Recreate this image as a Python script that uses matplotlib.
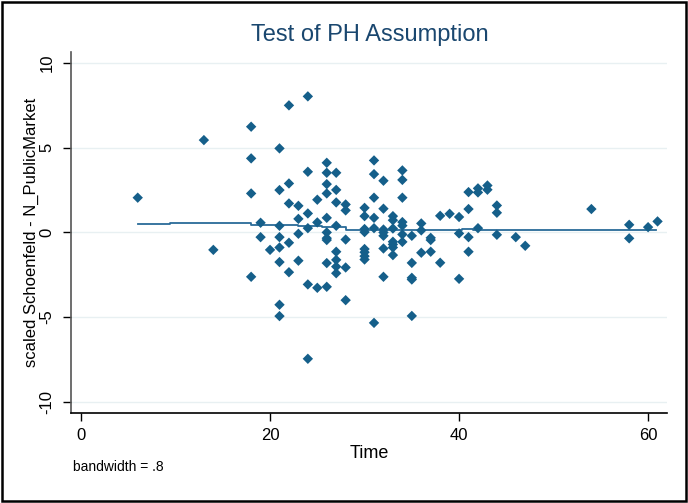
import matplotlib
matplotlib.use("Agg")
import matplotlib.pyplot as plt
from matplotlib.patches import Rectangle

plt.rcParams['font.family'] = ['Liberation Sans Narrow', 'Liberation Sans', 'DejaVu Sans']

# Scaled Schoenfeld residuals by time
resid_by_time = {
    6: [2.05],
    13: [5.45],
    14: [-1.03],
    18: [6.24, 4.37, 2.30, -2.62],
    19: [0.57, -0.28],
    20: [-1.03],
    21: [4.96, 2.50, 0.39, -0.28, -0.89, -1.75, -4.27, -4.94],
    22: [7.50, 2.89, 1.71, -0.61, -2.35],
    23: [1.57, 0.80, -0.08, -1.67],
    24: [8.03, 3.58, 1.12, 0.25, -3.07, -7.46],
    25: [1.93, 0.59, -3.27],
    26: [4.11, 3.52, 2.85, 2.30, 0.86, 0.0, -0.34, -0.45, -1.81, -3.21],
    27: [3.52, 2.51, 1.77, 0.39, -1.14, -1.62, -2.02, -2.41],
    28: [1.65, 1.30, -0.42, -2.07, -4.00],
    30: [1.45, 0.96, 0.20, 0.02, -0.98, -1.17, -1.40, -1.60],
    31: [4.25, 3.44, 2.05, 0.86, 0.25, -5.34],
    32: [3.05, 1.40, 0.17, 0.0, -0.20, -0.95, -2.62],
    33: [0.96, 0.72, 0.23, -0.55, -0.71, -0.89, -1.34],
    34: [3.66, 3.10, 2.05, 0.61, 0.40, -0.12, -0.56],
    35: [-0.20, -1.80, -2.68, -2.78, -4.93],
    36: [0.53, 0.12, -1.20],
    37: [-0.32, -0.45, -1.14],
    38: [0.98, -1.79],
    39: [1.10],
    40: [0.91, -0.06, -2.74],
    41: [2.38, 1.38, -0.28, -1.14],
    42: [2.60, 2.36, 0.25],
    43: [2.77, 2.52],
    44: [1.59, 1.16, -0.14],
    46: [-0.28],
    47: [-0.79],
    54: [1.38],
    58: [0.45, -0.35],
    60: [0.31],
    61: [0.65],
}
time_vals = [t for t, vs in resid_by_time.items() for _ in vs]
resid_vals = [v for vs in resid_by_time.values() for v in vs]

# Lowess smooth (bandwidth .8)
smooth_t = [6, 9.4, 9.4, 18, 18, 23, 23, 25.5, 25.5, 28, 28, 40.3, 40.3, 41.5, 41.5, 57.8, 57.8, 60.8]
smooth_v = [0.49, 0.49, 0.58, 0.58, 0.44, 0.44, 0.38, 0.38, 0.31, 0.31, 0.16, 0.16, 0.20, 0.20, 0.12, 0.12, 0.17, 0.17]

x_ticks = [0, 20, 40, 60]
y_ticks = [-10, -5, 0, 5, 10]

title_txt = "Test of PH Assumption"
xlabel_txt = "Time"
ylabel_txt = "scaled Schoenfeld - N_PublicMarket"
note_txt = "bandwidth = .8"

navy = '#1a476f'
mark_col = '#155f8a'
line_col = '#2a6b98'

fig = plt.figure(figsize=(6.88, 5.03), dpi=100)
fig.patch.set_facecolor('white')
ax = fig.add_axes([71/688, (503-413)/503, (667-71)/688, (413-52)/503])

ax.set_xlim(-1.06, 62.0)
ax.set_ylim(-10.66, 10.65)

for yt in y_ticks:
    ax.axhline(yt, color='#e8f0f2', lw=1.0, zorder=0)

ax.scatter(time_vals, resid_vals, marker='D', s=28, color=mark_col, edgecolors='none', zorder=3)
ax.plot(smooth_t, smooth_v, color=line_col, lw=1.3, zorder=2)

ax.set_xticks(x_ticks)
ax.set_yticks(y_ticks)
ax.set_yticklabels([str(v) for v in y_ticks], rotation=90, va='center')
ax.tick_params(axis='both', labelsize=12, colors='#000000', length=6, width=1, direction='out')
ax.tick_params(axis='y', pad=6)
ax.tick_params(axis='x', pad=5)

for s in ['top', 'right']:
    ax.spines[s].set_visible(False)
ax.spines['left'].set_color('#555555')
ax.spines['left'].set_linewidth(1.2)
ax.spines['bottom'].set_color('#000000')
ax.spines['bottom'].set_linewidth(1.2)

ax.set_xlabel(xlabel_txt, fontsize=13, labelpad=1)
ax.set_ylabel(ylabel_txt, fontsize=12, labelpad=0.5)

fig.text(370/688, 1 - 35/503, title_txt, ha='center', va='center', fontsize=17, color=navy)
fig.text(73/688, 1 - 467/503, note_txt, ha='left', va='center', fontsize=10)

fig.add_artist(Rectangle((2/688, 2/503), 684/688, 499/503, transform=fig.transFigure,
                         fill=False, edgecolor='black', lw=1.8))

fig.savefig('out.png', dpi=100, facecolor='white')
